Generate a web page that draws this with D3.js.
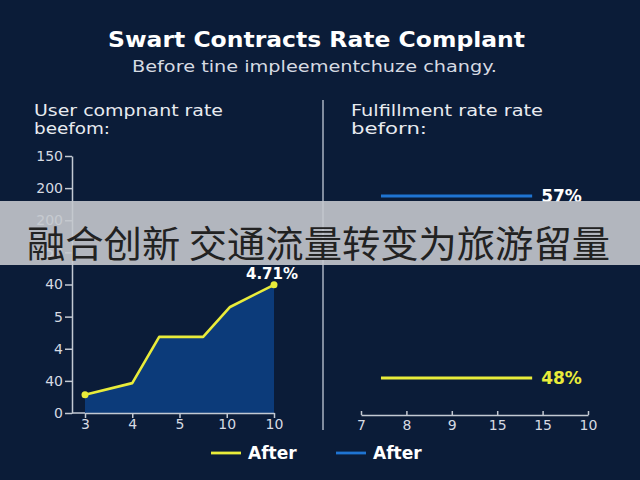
<!DOCTYPE html>
<html><head><meta charset="utf-8">
<script src="https://cdn.jsdelivr.net/npm/d3@7"></script>
<style>
html,body{margin:0;padding:0;background:#0b1c38;}
svg{display:block;}
text{font-family:"DejaVu Sans","Open Sans",sans-serif;}
</style></head><body>
<script>
// ---- data ----
const titleText = "Swart Contracts Rate Complant";
const subtitleText = "Before tine impleementchuze changy.";
const leftTitle = ["User compnant rate", "beefom:"];
const rightTitle = ["Fulfillment rate rate", "beforn:"];
const leftXTicks = ["3", "4", "5", "10", "10"];
const leftYTicks = ["0", "40", "4", "5", "40", "50", "200", "200", "150"];
// line positions in category-index units and values in tick-index units
const leftLineX = [0, 1, 1.57, 2.5, 3.07, 4.0];
const leftLineY = [0.57, 0.93, 2.37, 2.37, 3.30, 3.99];
const leftLabel = "4.71%";
const rightXTicks = ["7", "8", "9", "15", "15", "10"];
const rightSeries = ["Before", "After"];
const rightValues = [57, 48];
const rightLabels = ["57%", "48%"];
const rightSpan = [0.44, 3.77];
const legendLabels = ["After", "After"];
const bannerText = "融合创新 交通流量转变为旅游留量";

const W = 640, H = 480;
const bg = "#0b1c38", axisCol = "#c3c9d3", yellow = "#e9ec3a", blue = "#1f74d2", area = "#0c3b7a";

const svg = d3.select("body").append("svg").attr("width", W).attr("height", H);
svg.append("rect").attr("width", W).attr("height", H).attr("fill", bg);

svg.append("text").attr("x", 108).attr("y", 47)
  .attr("fill", "#ffffff").attr("font-size", 21).attr("font-weight", 700)
  .attr("textLength", 417).attr("lengthAdjust", "spacingAndGlyphs").text(titleText);
svg.append("text").attr("x", 132).attr("y", 72)
  .attr("fill", "#d6dae2").attr("font-size", 16)
  .attr("textLength", 365).attr("lengthAdjust", "spacingAndGlyphs").text(subtitleText);

// panel titles
const ltW = [189, 76], rtW = [192, 76];
leftTitle.forEach((t, i) => svg.append("text").attr("x", 34).attr("y", 116 + i * 18)
  .attr("fill", "#e8ebf0").attr("font-size", 16).attr("textLength", ltW[i]).attr("lengthAdjust", "spacingAndGlyphs").text(t));
rightTitle.forEach((t, i) => svg.append("text").attr("x", 351).attr("y", 116 + i * 18)
  .attr("fill", "#e8ebf0").attr("font-size", 16).attr("textLength", rtW[i]).attr("lengthAdjust", "spacingAndGlyphs").text(t));

// ---- left chart ----
const lx = d3.scaleLinear().domain([0, 4]).range([85, 274]);
const ly = d3.scaleLinear().domain([0, 8]).range([413, 156]);

const pts = leftLineX.map((x, i) => [x, leftLineY[i]]);
svg.append("path").datum(pts)
  .attr("d", d3.area().x(d => lx(d[0])).y0(ly(0)).y1(d => ly(d[1])))
  .attr("fill", area);
svg.append("path").datum(pts)
  .attr("d", d3.line().x(d => lx(d[0])).y(d => ly(d[1])))
  .attr("fill", "none").attr("stroke", yellow).attr("stroke-width", 2.6).attr("stroke-linejoin", "round");
[pts[0], pts[pts.length - 1]].forEach(p => svg.append("circle")
  .attr("cx", lx(p[0])).attr("cy", ly(p[1])).attr("r", 3.5).attr("fill", yellow));
svg.append("text").attr("x", lx(4) - 2).attr("y", ly(pts[pts.length - 1][1]) - 6)
  .attr("text-anchor", "middle").attr("fill", "#ffffff").attr("font-size", 15).attr("font-weight", 700).text(leftLabel);

const yAx = svg.append("g").attr("transform", "translate(72,0)")
  .call(d3.axisLeft(ly).tickValues(d3.range(leftYTicks.length)).tickFormat(i => leftYTicks[i]).tickSize(7).tickSizeOuter(0));
const xAx = svg.append("g").attr("transform", "translate(0,413)")
  .call(d3.axisBottom(lx).tickValues(d3.range(leftXTicks.length)).tickFormat(i => leftXTicks[i]).tickSize(5).tickSizeOuter(0));
svg.append("line").attr("x1", 72).attr("x2", 85).attr("y1", 413).attr("y2", 413).attr("stroke", axisCol).attr("stroke-width", 1.5);
[yAx, xAx].forEach(g => {
  g.select(".domain").attr("stroke", axisCol).attr("stroke-width", 1.5);
  g.selectAll(".tick line").attr("stroke", axisCol).attr("stroke-width", 1.5);
  g.selectAll(".tick text").attr("fill", "#d6dae2").attr("font-size", 14).attr("font-family", "DejaVu Sans");
});
yAx.selectAll(".tick text").attr("x", -9);
xAx.selectAll(".tick text").attr("y", 5).attr("dy", "0.8em");

// divider
svg.append("line").attr("x1", 323).attr("x2", 323).attr("y1", 100).attr("y2", 430)
  .attr("stroke", "#aab2c0").attr("stroke-width", 1.5);

// ---- right chart ----
const rx = d3.scaleLinear().domain([0, 5]).range([361, 588]);
const ry = d3.scaleLinear().domain([48, 57]).range([378, 196]);
const rcols = [blue, yellow], lcols = ["#ffffff", yellow];
rightValues.forEach((v, i) => {
  svg.append("line").attr("x1", rx(rightSpan[0])).attr("x2", rx(rightSpan[1]))
    .attr("y1", ry(v)).attr("y2", ry(v)).attr("stroke", rcols[i]).attr("stroke-width", 2.8);
  svg.append("text").attr("x", rx(rightSpan[1]) + 9).attr("y", ry(v) + 6)
    .attr("fill", lcols[i]).attr("font-size", 17).attr("font-weight", 700).text(rightLabels[i]);
});
const rxAx = svg.append("g").attr("transform", "translate(0,415)")
  .call(d3.axisBottom(rx).tickValues(d3.range(rightXTicks.length)).tickFormat(i => rightXTicks[i]).tickSize(-4).tickSizeOuter(0));
rxAx.select(".domain").attr("stroke", axisCol).attr("stroke-width", 1.5);
rxAx.selectAll(".tick line").attr("stroke", axisCol).attr("stroke-width", 1.5);
rxAx.selectAll(".tick text").attr("fill", "#d6dae2").attr("font-size", 14).attr("font-family", "DejaVu Sans").attr("y", 4).attr("dy", "0.8em");

// legends
const legs = [{x: 211, c: yellow}, {x: 336, c: blue}];
legs.forEach((l, i) => {
  svg.append("line").attr("x1", l.x).attr("x2", l.x + 30).attr("y1", 453).attr("y2", 453)
    .attr("stroke", l.c).attr("stroke-width", 2.8);
  svg.append("text").attr("x", l.x + 37).attr("y", 459).attr("fill", "#ffffff")
    .attr("font-size", 17).attr("font-weight", 700).text(legendLabels[i]);
});

// banner overlay
svg.append("rect").attr("x", 0).attr("y", 201).attr("width", W).attr("height", 64)
  .attr("fill", "#c4c8cd").attr("opacity", 0.9);
svg.append("text").attr("x", 27).attr("y", 258)
  .attr("fill", "#222222").attr("font-size", 37).style("font-family", '"Noto Sans CJK SC"')
  .attr("textLength", 583).attr("lengthAdjust", "spacingAndGlyphs")
  .text(bannerText);
</script>
</body></html>
